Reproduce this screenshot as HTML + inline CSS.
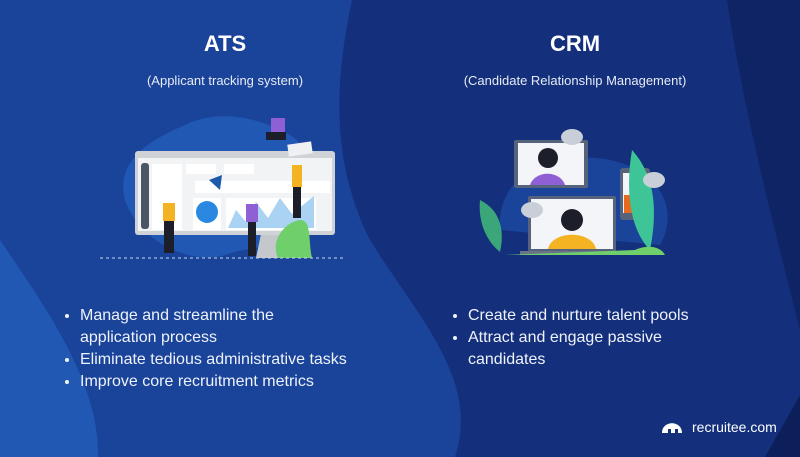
<!DOCTYPE html>
<html><head><meta charset="utf-8"><style>
html,body{margin:0;padding:0}
body{width:800px;height:457px;overflow:hidden;position:relative;background:#142f7b;font-family:"Liberation Sans",sans-serif;color:#fff}
svg{position:absolute;left:0;top:0}
.t{position:absolute;text-align:center;font-weight:bold;font-size:22px}
.s{position:absolute;text-align:center;font-size:13px;color:#e6ebf5}
ul{position:absolute;margin:0;padding:0 0 0 20px;font-size:16px;line-height:22px;color:#eef2fa}
</style></head><body>
<svg width="800" height="457" viewBox="0 0 800 457">
<path d="M0 0 H352 C335 80 330 160 370 240 C420 320 480 380 455 457 H0 Z" fill="#1a439a"/>
<path d="M0 240 C40 300 100 380 98 457 H0 Z" fill="#2058b4"/>
<path d="M727 0 H800 V330 C780 250 745 120 727 0 Z" fill="#0f2465"/>
<path d="M800 395 L765 457 H800 Z" fill="#0c1f5a"/>
<!-- ATS blob -->
<path d="M125 200 C115 160 150 140 185 125 C215 110 255 115 290 135 C320 155 325 195 305 225 C285 250 250 245 225 255 C195 265 140 245 125 200Z" fill="#2058b4"/>
<!-- monitor -->
<path d="M256 258 H286 L281 234 H261Z" fill="#c4c7cc"/>
<rect x="135" y="151" width="200" height="84" rx="3" fill="#cfd3d8"/>
<rect x="138" y="158" width="194" height="73" fill="#f1f3f5"/>
<rect x="141" y="163" width="8" height="66" rx="3" fill="#4a5566"/>
<rect x="152" y="164" width="30" height="66" fill="#fff"/>
<rect x="186" y="164" width="30" height="10" fill="#fff"/>
<rect x="224" y="164" width="30" height="10" fill="#fff"/>
<rect x="195" y="181" width="135" height="12" fill="#fff"/>
<rect x="193" y="198" width="28" height="32" fill="#fff"/>
<circle cx="207" cy="212" r="11" fill="#2a88e0"/>
<rect x="226" y="198" width="90" height="32" fill="#fff"/>
<path d="M228 228 L236 210 L246 222 L256 202 L268 218 L280 198 L292 214 L314 196 V228Z" fill="#a9d2f3"/>
<path d="M209 180 L222 175 L220 190Z" fill="#1c5aab"/>
<path d="M278 258 C270 240 285 222 300 220 C312 220 308 240 312 258Z" fill="#6fcf6a"/>
<rect x="288" y="143" width="24" height="12" fill="#eef0f2" transform="rotate(-8 300 149)"/>
<rect x="271" y="118" width="14" height="14" fill="#8f5fd6"/>
<rect x="266" y="132" width="20" height="8" fill="#1c1f2a"/>
<rect x="292" y="165" width="10" height="22" fill="#f4b322"/>
<rect x="293" y="187" width="8" height="31" fill="#1c1f2a"/>
<rect x="163" y="203" width="12" height="18" fill="#f4b322"/>
<rect x="164" y="221" width="10" height="32" fill="#1c1f2a"/>
<rect x="246" y="204" width="12" height="18" fill="#8f5fd6"/>
<rect x="248" y="222" width="8" height="34" fill="#1c1f2a"/>
<line x1="100" y1="258" x2="345" y2="258" stroke="#cfd8ea" stroke-dasharray="3 3" stroke-width="1"/>
<!-- CRM -->
<path d="M500 230 C495 170 560 150 610 160 C660 170 680 210 660 245 Z" fill="#1a439a"/>
<rect x="514" y="140" width="74" height="48" rx="2" fill="#56637a"/>
<rect x="518" y="143" width="66" height="42" fill="#f3f5f8"/>
<path d="M530 185 C535 170 560 170 565 185Z" fill="#8f5fd6"/>
<circle cx="548" cy="158" r="10" fill="#1c1f2a"/>
<rect x="528" y="196" width="88" height="56" rx="2" fill="#56637a"/>
<rect x="531" y="199" width="82" height="50" fill="#f3f5f8"/>
<path d="M548 249 C552 230 592 230 596 249Z" fill="#f4b322"/>
<circle cx="572" cy="220" r="11" fill="#1c1f2a"/>
<rect x="520" y="251" width="104" height="4" fill="#6a7488"/>
<rect x="620" y="168" width="30" height="52" rx="3" fill="#56637a"/>
<rect x="623" y="173" width="24" height="40" fill="#f3f5f8"/>
<rect x="624" y="195" width="22" height="18" fill="#e66b20"/>
<path d="M632 150 C650 170 660 200 650 250 C630 230 625 190 632 150Z" fill="#3dc597"/>
<path d="M480 200 C500 210 505 230 500 252 C485 240 478 220 480 200Z" fill="#3aa67a"/>
<ellipse cx="572" cy="137" rx="11" ry="8" fill="#c9cfd8"/>
<ellipse cx="532" cy="210" rx="11" ry="8" fill="#c9cfd8"/>
<ellipse cx="654" cy="180" rx="11" ry="8" fill="#c9cfd8"/>
<path d="M505 255 H665 C660 245 645 245 635 250 Z" fill="#6fcf6a"/>
<!-- logo -->
<path d="M662 433 C662 420 682 420 682 433 H678 V429 H675 V433 H671 V429 H668 V433 Z" fill="#fff"/>
</svg>
<div class="t" style="left:125px;width:200px;top:31px">ATS</div>
<div class="s" style="left:75px;width:300px;top:73px">(Applicant tracking system)</div>
<div class="t" style="left:475px;width:200px;top:31px">CRM</div>
<div class="s" style="left:425px;width:300px;top:73px">(Candidate Relationship Management)</div>
<ul style="left:60px;top:305px;width:320px">
<li>Manage and streamline the<br>application process</li>
<li>Eliminate tedious administrative tasks</li>
<li>Improve core recruitment metrics</li>
</ul>
<ul style="left:448px;top:305px;width:270px">
<li>Create and nurture talent pools</li>
<li>Attract and engage passive<br>candidates</li>
</ul>
<div style="position:absolute;left:692px;top:419px;font-size:14px;color:#fff">recruitee.com</div>
</body></html>
